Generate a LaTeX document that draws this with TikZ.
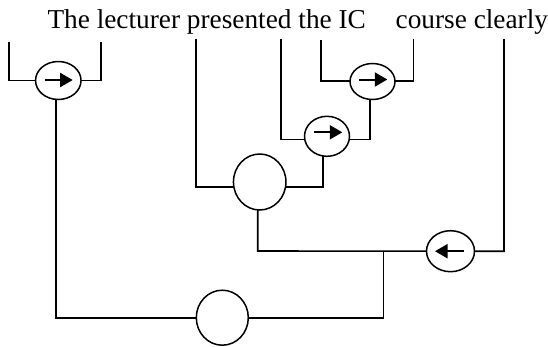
\documentclass[tikz,border=0pt]{standalone}
\usepackage{fontspec}
\setmainfont{Liberation Serif}
\usetikzlibrary{arrows.meta,backgrounds,shapes.geometric}
\begin{document}
\begin{tikzpicture}[x=1pt,y=-1pt,
  wire/.style={line width=1.6pt},
  op/.style={draw,ellipse,line width=1.5pt,fill=white,inner sep=0pt},
  arr/.style={line width=2pt,-{Triangle[length=12.5pt,width=14pt]}},
  word/.style={anchor=base west,inner sep=0pt,font=\fontsize{27.3}{30}\selectfont}]
\useasboundingbox (0,0) rectangle (548,346);
% words
\node[word] (s1) at (47.3,28.3) {The lecturer presented the IC};
\node[word] (s2) at (395.5,28.3) {course clearly};
% operator ellipses
\node[op,minimum width=45.5pt,minimum height=38pt] (e1) at (58.3,80.5) {};
\node[op,minimum width=45pt,minimum height=36pt] (e3) at (372.5,81.5) {};
\node[op,minimum width=45pt,minimum height=40pt] (e2) at (327,136.3) {};
\node[op,minimum width=48pt,minimum height=41pt] (e4) at (450.5,251.2) {};
\node[op,minimum width=52.5pt,minimum height=56pt] (b1) at (259.7,182) {};
\node[op,minimum width=52pt,minimum height=55pt] (b2) at (222.3,317.7) {};
% free ends and corners
\coordinate (lt1) at (8.7,41.5);
\coordinate (lt2) at (101,41.5);
\coordinate (wP) at (195.7,38.5);
\coordinate (wThe) at (281,38.5);
\coordinate (wIC) at (320.7,39.5);
\coordinate (wCo) at (413.3,38.5);
\coordinate (wCl) at (504,39);
\coordinate (k1) at (56,317.7);
\coordinate (k2) at (257.7,251);
\coordinate (j) at (383.3,251);
\coordinate (k4) at (322.7,186.7);
\coordinate (k5) at (370,139.3);
\coordinate (k6) at (413.3,80.7);
\begin{scope}[on background layer]
\draw[wire] (lt1) |- (e1.center) -| (lt2);
\draw[wire] (k1 |- e1.center) -- (k1) -- (b2.center) -| (j);
\draw[wire] (k2 |- b1.center) -- (k2) -- (e4.center) -| (wCl);
\draw[wire] (wP) |- (k4) -- (k4 |- e2.center);
\draw[wire] (wThe) |- (k5) -- (k5 |- e3.center);
\draw[wire] (wIC) |- (k6) -- (wCo);
\end{scope}
% arrows inside operators
\draw[arr] ([xshift=-13.3pt,yshift=0.5pt]e1.center) -- ([xshift=14.4pt,yshift=0.5pt]e1.center);
\draw[arr] ([xshift=-13.5pt,yshift=2pt]e3.center) -- ([xshift=14.8pt,yshift=2pt]e3.center);
\draw[arr] ([xshift=-12.7pt,yshift=4pt]e2.center) -- ([xshift=15.3pt,yshift=4pt]e2.center);
\draw[arr] ([xshift=13.5pt]e4.center) -- ([xshift=-15.5pt]e4.center);
\end{tikzpicture}
\end{document}
